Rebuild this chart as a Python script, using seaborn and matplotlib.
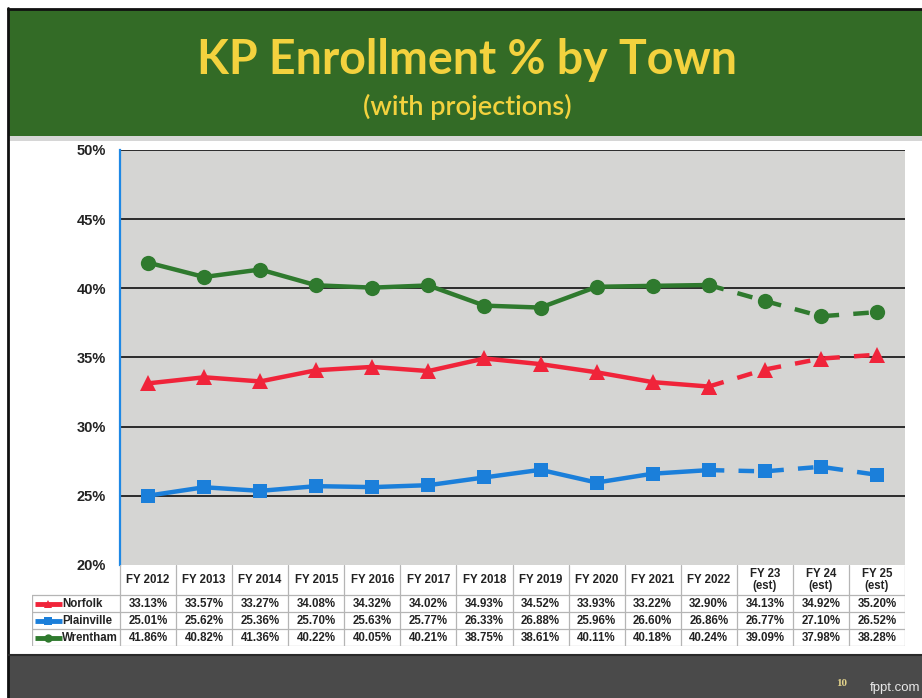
import numpy as np
import pandas as pd
import matplotlib
matplotlib.use("Agg")
import matplotlib.pyplot as plt
import seaborn as sns
from matplotlib.patches import Rectangle
from matplotlib.lines import Line2D

# ---------------- data ----------------
categories = ["FY 2012", "FY 2013", "FY 2014", "FY 2015", "FY 2016", "FY 2017",
              "FY 2018", "FY 2019", "FY 2020", "FY 2021", "FY 2022",
              "FY 23\n(est)", "FY 24\n(est)", "FY 25\n(est)"]
norfolk = [33.13, 33.57, 33.27, 34.08, 34.32, 34.02, 34.93, 34.52, 33.93, 33.22,
           32.90, 34.13, 34.92, 35.20]
plainville = [25.01, 25.62, 25.36, 25.70, 25.63, 25.77, 26.33, 26.88, 25.96, 26.60,
              26.86, 26.77, 27.10, 26.52]
wrentham = [41.86, 40.82, 41.36, 40.22, 40.05, 40.21, 38.75, 38.61, 40.11, 40.18,
            40.24, 39.09, 37.98, 38.28]
towns = ["Norfolk", "Plainville", "Wrentham"]
n_actual = 11  # FY 2012 .. FY 2022 are actuals, rest are projections
yticks = [20, 25, 30, 35, 40, 45, 50]
title = "KP Enrollment % by Town"
subtitle = "(with projections)"

series = {"Norfolk": norfolk, "Plainville": plainville, "Wrentham": wrentham}
colors = {"Norfolk": "#f0243a", "Plainville": "#1b7fda", "Wrentham": "#2f7a2e"}
markers = {"Norfolk": "^", "Plainville": "s", "Wrentham": "o"}
msizes = {"Norfolk": 11, "Plainville": 10, "Wrentham": 11}

# ---------------- figure ----------------
sns.set_style("white")
plt.rcParams["font.family"] = ["Liberation Sans", "DejaVu Sans"]

W, H = 922, 698
fig = plt.figure(figsize=(W / 100, H / 100), dpi=100)
fig.patch.set_facecolor("white")

# slide decorations
fig.patches.append(Rectangle((8 / W, (H - 136) / H), (W - 8) / W, 127 / H,
                             transform=fig.transFigure, facecolor="#336b26",
                             edgecolor="none", zorder=0))
fig.patches.append(Rectangle((8 / W, (H - 141) / H), (W - 8) / W, 5 / H,
                             transform=fig.transFigure, facecolor="#d6d6d6",
                             edgecolor="none", zorder=0))
fig.patches.append(Rectangle((8 / W, 0), (W - 8) / W, 43 / H,
                             transform=fig.transFigure, facecolor="#4a4a4a",
                             edgecolor="none", zorder=0))
fig.add_artist(Line2D([8 / W, 8 / W], [0, (H - 8) / H], transform=fig.transFigure,
                      color="#111111", lw=2))
fig.add_artist(Line2D([8 / W, 1], [(H - 9) / H, (H - 9) / H], transform=fig.transFigure,
                      color="#111111", lw=2))
fig.add_artist(Line2D([8 / W, 1], [43 / H, 43 / H], transform=fig.transFigure,
                      color="#2a2a2a", lw=1.5))

fig.text(467 / W, (H - 60) / H, title, ha="center", va="center",
         family=["Lato", "DejaVu Sans"], weight="bold", fontsize=33.5, color="#f3d23e")
fig.text(467 / W, (H - 107) / H, subtitle, ha="center", va="center",
         family=["Lato", "DejaVu Sans"], weight="semibold", fontsize=19.5,
         color="#f3d23e")
fig.text(842 / W, 15 / H, "10", ha="center", va="center", fontsize=8,
         family=["Liberation Serif", "DejaVu Serif"], weight="bold", color="#e2d28a")
fig.text(920 / W, 10 / H, "fppt.com", ha="right", va="center", fontsize=9.5,
         color="#e8e8e8")

# ---------------- main chart ----------------
ax = fig.add_axes([120 / W, (H - 565) / H, 785 / W, 415 / H])
ax.set_facecolor("#d5d5d3")
n = len(categories)
ax.set_xlim(0, n)
ax.set_ylim(yticks[0], yticks[-1])
for t in yticks[1:]:
    ax.axhline(t, color="#1e1e1e", lw=1.3, zorder=1)

x = np.arange(n) + 0.5
for name in towns:
    df = pd.DataFrame({"x": x, "y": series[name]})
    common = dict(ax=ax, color=colors[name], marker=markers[name],
                  markersize=msizes[name], markeredgecolor=colors[name],
                  markeredgewidth=0, lw=3.2, zorder=3)
    sns.lineplot(data=df.iloc[:n_actual], x="x", y="y", **common)
    sns.lineplot(data=df.iloc[n_actual - 1:], x="x", y="y",
                 linestyle=(0, (3.5, 3.2)), **common)

ax.set_xlabel("")
ax.set_ylabel("")
ax.set_xticks([])
ax.set_yticks(yticks)
ax.set_yticklabels([f"{t}%" for t in yticks], fontsize=10.5, weight="bold",
                   color="#222222")
ax.tick_params(axis="y", length=0, pad=10)
for s in ["top", "right", "bottom"]:
    ax.spines[s].set_visible(False)
ax.spines["left"].set_color("#1e88e5")
ax.spines["left"].set_linewidth(1.6)

# ---------------- data table ----------------
unit = 785 / n
leg_w = 88 / unit
tax = fig.add_axes([32 / W, (H - 646) / H, 873 / W, 81 / H])
tax.set_xlim(-leg_w, n)
tax.set_ylim(81, 0)
tax.axis("off")
row_edges = [30, 47, 64, 81]
gcol = "#b5b5b5"
for i in range(n + 1):
    tax.plot([i, i], [0, 81], color=gcol, lw=0.9)
tax.plot([-leg_w, -leg_w], [row_edges[0], 81], color=gcol, lw=0.9)
for y in row_edges:
    tax.plot([-leg_w, n], [y, y], color=gcol, lw=0.9)

for i, c in enumerate(categories):
    tax.text(i + 0.5, 15, c, ha="center", va="center", fontsize=8.3, weight="bold",
             color="#222222", linespacing=1.0)

for r, name in enumerate(towns):
    yc = (row_edges[r] + row_edges[r + 1]) / 2
    for i, v in enumerate(series[name]):
        tax.text(i + 0.5, yc + 0.5, f"{v:.2f}%", ha="center", va="center",
                 fontsize=8.3, weight="bold", color="#222222")
    x0 = -leg_w + 0.05
    x1 = x0 + 27 / unit
    tax.plot([x0, x1], [yc, yc], color=colors[name], lw=3.5, solid_capstyle="butt")
    tax.plot([(x0 + x1) / 2], [yc], marker=markers[name], markersize=6,
             color=colors[name], markeredgewidth=0)
    tax.text(x1 + 0.01, yc + 0.5, name, ha="left", va="center", fontsize=8.3,
             weight="bold", color="#222222")

fig.savefig("out.png", dpi=100, facecolor=fig.get_facecolor())
